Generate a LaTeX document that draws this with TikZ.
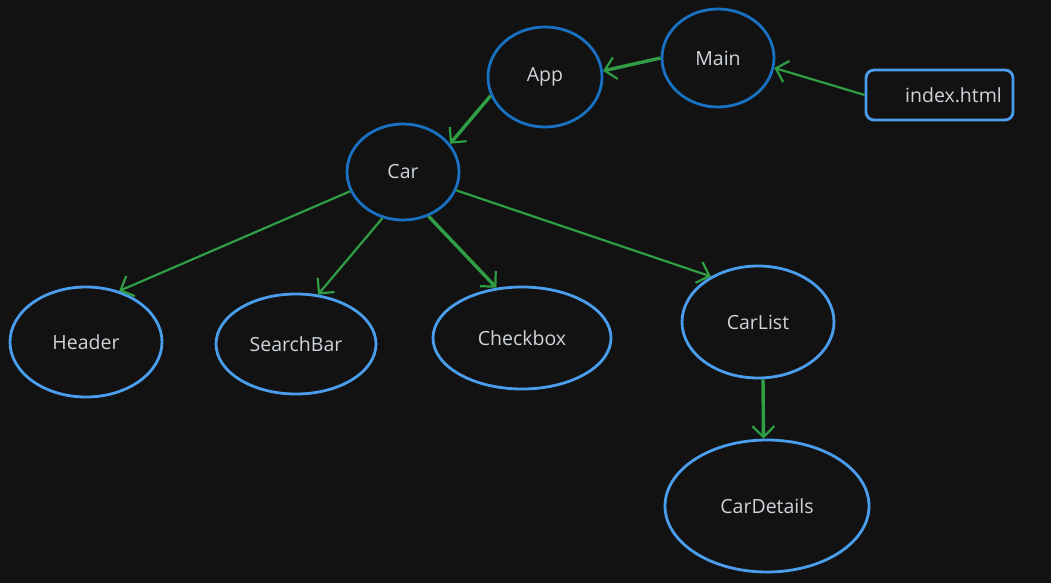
\documentclass[tikz,border=0pt]{standalone}
\usepackage{fontspec}
\setmainfont{Open Sans}
\usetikzlibrary{shapes.geometric,arrows.meta}
\definecolor{bg}{HTML}{121212}
\definecolor{darkblue}{HTML}{1971C2}
\definecolor{lightblue}{HTML}{4A9EED}
\definecolor{arrowgreen}{HTML}{2F9E44}
\definecolor{txt}{HTML}{CED4DA}
\tikzset{
  comp/.style={ellipse, draw=#1, line width=2.8pt, text=txt, inner sep=0pt,
    font=\fontsize{19.5}{22}\selectfont},
  link/.style={draw=arrowgreen, line width=2.2pt, -{Straight Barb[length=11pt,width=22pt,line width=2.2pt]}},
  thick link/.style={link, line width=3.4pt},
}
\begin{document}
\begin{tikzpicture}[x=1pt,y=-1pt]
\fill[bg] (0,0) rectangle (1051,583);
\useasboundingbox (0,0) rectangle (1051,583);
\node[comp=darkblue, minimum width=114pt, minimum height=100pt] (app) at (545,77) {App};
\node[comp=darkblue, minimum width=112pt, minimum height=98pt] (main) at (718,58) {Main};
\node[draw=lightblue, line width=2.8pt, rounded corners=8pt, text=txt, minimum width=147pt, minimum height=50pt,
  font=\fontsize{19.5}{22}\selectfont] (index) at (939.5,95) {\hspace*{28pt}index.html};
\node[comp=darkblue, minimum width=112pt, minimum height=96pt] (car) at (403,172) {Car};
\node[comp=lightblue, minimum width=152pt, minimum height=110pt] (header) at (86,342) {Header};
\node[comp=lightblue, minimum width=160pt, minimum height=100pt] (search) at (296,344) {SearchBar};
\node[comp=lightblue, minimum width=178pt, minimum height=102pt] (check) at (522,338) {Checkbox};
\node[comp=lightblue, minimum width=152pt, minimum height=112pt] (carlist) at (758,322) {CarList};
\node[comp=lightblue, minimum width=204pt, minimum height=132pt] (cardetails) at (767,506) {CarDetails};

\draw[link] (index.west) -- (main.350);
\draw[thick link] (main.180) -- (app.6);
\draw[thick link] (app.199) -- (car.31);
\draw[link] (car.200) -- (header.57);
\draw[link] (car.246) -- (search.66);
\draw[thick link] (car.300) -- (check.117);
\draw[link] (car.341) -- (carlist.136);
\draw[thick link] (carlist.275) -- (cardetails.93);
\end{tikzpicture}
\end{document}
